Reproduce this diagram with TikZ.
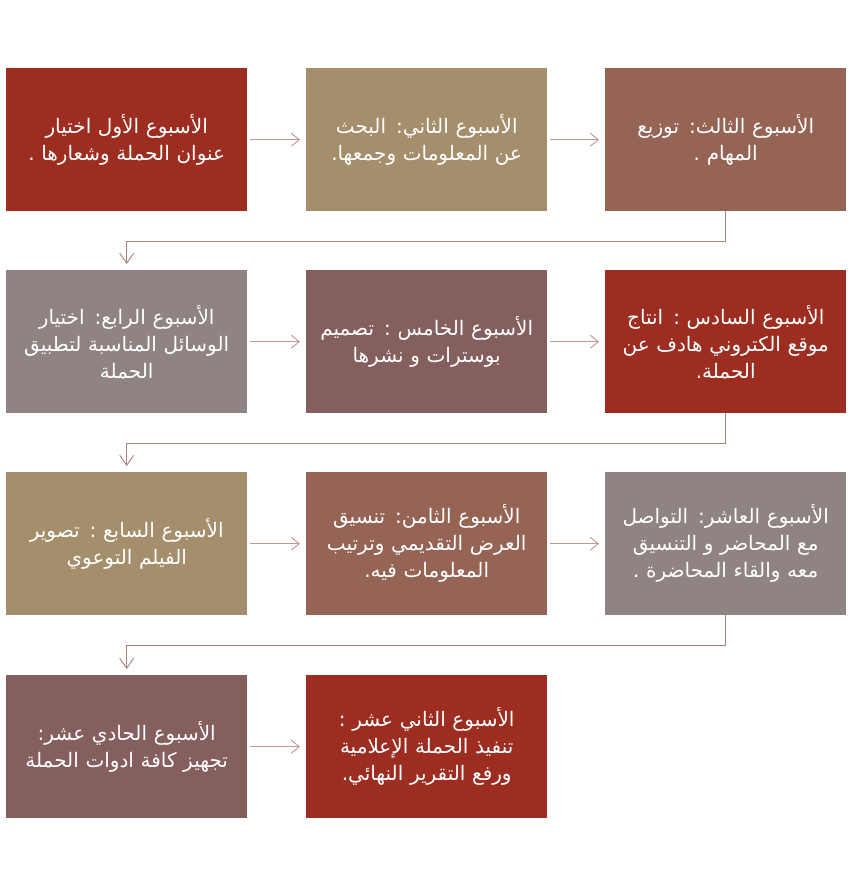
\documentclass[tikz,border=0pt]{standalone}
\usepackage{fontspec}
\newfontfamily\arabicfont[Script=Arabic]{DejaVu Sans}
\TeXXeTstate=1
\usetikzlibrary{arrows.meta}
\definecolor{cred}{HTML}{9C2D20}
\definecolor{ctan}{HTML}{A48E6B}
\definecolor{cbrown}{HTML}{956454}
\definecolor{cgrey}{HTML}{8F8383}
\definecolor{cmauve}{HTML}{855E5E}
\definecolor{cline}{HTML}{BE9790}
\definecolor{cdown}{HTML}{A88278}
\newcommand{\arl}[1]{\beginR #1\endR}
\tikzset{
  wbox/.style={anchor=north west, minimum width=241pt, minimum height=143pt, inner sep=0pt,
    text width=232pt, align=center, text=white, font=\arabicfont\fontsize{20}{27}\selectfont},
  harrow/.style={draw=cline, line width=0.9pt, -{Straight Barb[length=8pt,width=13pt]}, shorten <=3pt, shorten >=6pt},
  varrow/.style={draw=cdown, line width=0.9pt, -{Straight Barb[length=10pt,width=14pt]}, shorten >=6pt}
}
\begin{document}
\begin{tikzpicture}[x=1pt,y=-1pt]
\useasboundingbox[fill=white] (0,0) rectangle (850,887);
\node[wbox, fill=cred] (b1) at (6,68) {\arl{الأسبوع الأول اختيار}\\\arl{عنوان الحملة وشعارها .}};
\node[wbox, fill=ctan] (b2) at (306,68) {\arl{الأسبوع الثاني: البحث}\\\arl{عن المعلومات وجمعها.}};
\node[wbox, fill=cbrown] (b3) at (605,68) {\arl{الأسبوع الثالث: توزيع}\\\arl{المهام .}};
\node[wbox, fill=cgrey] (b4) at (6,270) {\arl{الأسبوع الرابع: اختيار}\\\arl{الوسائل المناسبة لتطبيق}\\\arl{الحملة}};
\node[wbox, fill=cmauve] (b5) at (306,270) {\arl{الأسبوع الخامس : تصميم}\\\arl{بوسترات و نشرها}};
\node[wbox, fill=cred] (b6) at (605,270) {\arl{الأسبوع السادس :  انتاج}\\\arl{موقع الكتروني هادف عن}\\\arl{الحملة.}};
\node[wbox, fill=ctan] (b7) at (6,472) {\arl{الأسبوع السابع : تصوير}\\\arl{الفيلم التوعوي}};
\node[wbox, fill=cbrown] (b8) at (306,472) {\arl{الأسبوع الثامن: تنسيق}\\\arl{العرض التقديمي وترتيب}\\\arl{المعلومات فيه.}};
\node[wbox, fill=cgrey] (b9) at (605,472) {\arl{الأسبوع العاشر: التواصل}\\\arl{مع المحاضر و التنسيق}\\\arl{معه والقاء المحاضرة .}};
\node[wbox, fill=cmauve] (b10) at (6,675) {\arl{الأسبوع الحادي عشر:}\\\arl{تجهيز كافة ادوات الحملة}};
\node[wbox, fill=cred] (b11) at (306,675) {\arl{الأسبوع الثاني عشر :}\\\arl{تنفيذ الحملة الإعلامية}\\\arl{ورفع التقرير النهائي.}};
\draw[harrow] (b1.east) -- (b2.west);
\draw[harrow] (b2.east) -- (b3.west);
\draw[harrow] (b4.east) -- (b5.west);
\draw[harrow] (b5.east) -- (b6.west);
\draw[harrow] (b7.east) -- (b8.west);
\draw[harrow] (b8.east) -- (b9.west);
\draw[harrow] (b10.east) -- (b11.west);
\draw[varrow] (b3.south) -- ++(0,30) -| (b4.north);
\draw[varrow] (b6.south) -- ++(0,30) -| (b7.north);
\draw[varrow] (b9.south) -- ++(0,30) -| (b10.north);
\end{tikzpicture}
\end{document}
